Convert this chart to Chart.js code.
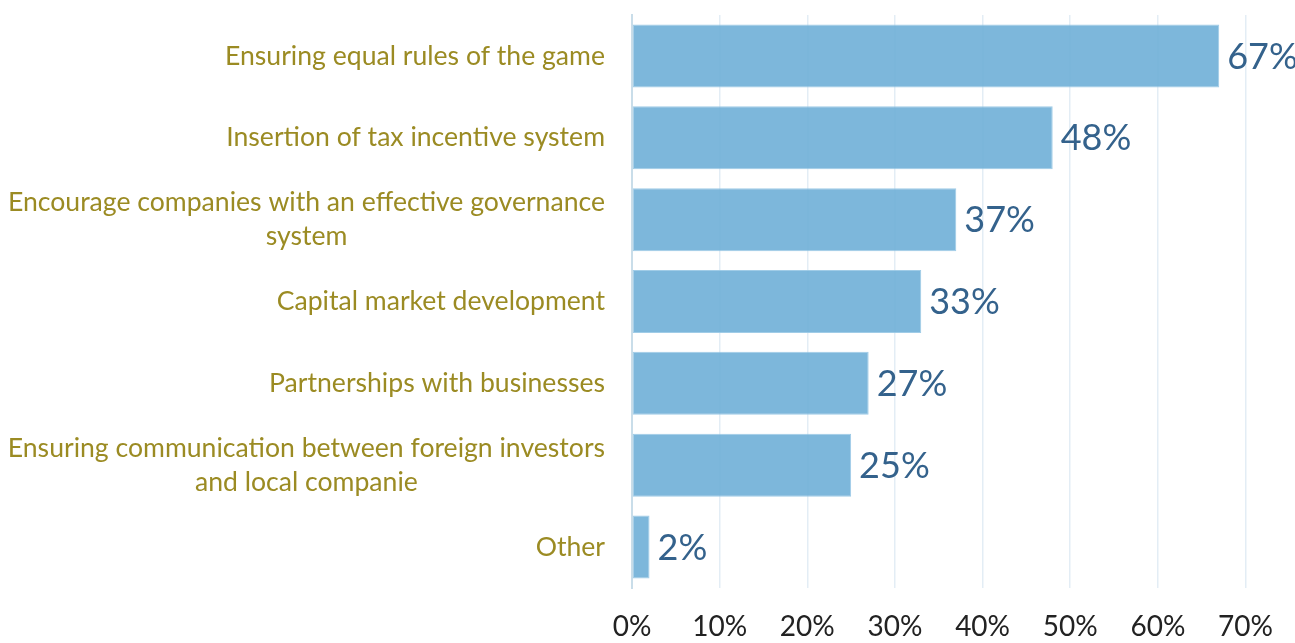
<!DOCTYPE html>
<html>
<head>
<meta charset="utf-8">
<title>Measures to support investment</title>
<script src="https://cdn.jsdelivr.net/npm/chart.js@4.4.1/dist/chart.umd.min.js"></script>
<style>
  html, body { margin: 0; padding: 0; background: #ffffff; }
  #wrap { position: relative; width: 1295px; height: 643px; }
</style>
</head>
<body>
<div id="wrap"><canvas id="chart"></canvas></div>
<script>
// Survey answers, one row per measure
const categories = [
  ["Ensuring equal rules of the game"],
  ["Insertion of tax incentive system"],
  ["Encourage companies with an effective governance", "system"],
  ["Capital market development"],
  ["Partnerships with businesses"],
  ["Ensuring communication between foreign investors", "and local companie"],
  ["Other"]
];
const shares = [67, 48, 37, 33, 27, 25, 2];
const xTicks = [0, 10, 20, 30, 40, 50, 60, 70];

const LABEL_FONT = "Lato, 'Open Sans', sans-serif";
const LABEL_COLOR = "#9b8b23";
const VALUE_COLOR = "#34628c";

// Category names, drawn right-aligned as a block with the lines centred inside it
const categoryLabels = {
  id: "categoryLabels",
  afterDraw(chart) {
    const { ctx } = chart;
    const y = chart.scales.y;
    const right = chart.chartArea.left - 27;
    const lineH = 34;
    ctx.save();
    ctx.font = "26.6px " + LABEL_FONT;
    ctx.fillStyle = LABEL_COLOR;
    ctx.textAlign = "center";
    ctx.textBaseline = "middle";
    categories.forEach((lines, i) => {
      const cy = y.getPixelForValue(i);
      const w = Math.max(...lines.map(l => ctx.measureText(l).width));
      const cx = right - w / 2;
      const top = cy - (lines.length - 1) * lineH / 2;
      lines.forEach((l, k) => ctx.fillText(l, cx, top + k * lineH));
    });
    ctx.restore();
  }
};

// Percentage written just past the end of each bar
const valueLabels = {
  id: "valueLabels",
  afterDatasetsDraw(chart) {
    const { ctx } = chart;
    const meta = chart.getDatasetMeta(0);
    ctx.save();
    ctx.font = "36px " + LABEL_FONT;
    ctx.fillStyle = VALUE_COLOR;
    ctx.textAlign = "left";
    ctx.textBaseline = "middle";
    meta.data.forEach((bar, i) => {
      ctx.fillText(shares[i] + "%", bar.x + 8, bar.y + 1);
    });
    ctx.restore();
  }
};

new Chart(document.getElementById("chart"), {
  type: "bar",
  data: {
    labels: categories.map(c => c.join(" ")),
    datasets: [{
      data: shares,
      backgroundColor: "rgba(111,175,215,0.9)",
      borderColor: "rgba(150,198,228,0.9)",
      borderWidth: 1,
      borderSkipped: false,
      barPercentage: 0.77,
      categoryPercentage: 1.0
    }]
  },
  options: {
    indexAxis: "y",
    responsive: true,
    maintainAspectRatio: false,
    animation: false,
    layout: { padding: { top: 15, right: 0, left: 0, bottom: 0 } },
    plugins: { legend: { display: false }, tooltip: { enabled: false } },
    scales: {
      x: {
        min: 0,
        max: 70,
        afterBuildTicks(scale) { scale.ticks = xTicks.map(v => ({ value: v })); },
        afterFit(scale) { scale.height = 55; },
        grid: { color: "#e3edf5", lineWidth: 1.5, drawTicks: false },
        border: { display: false },
        ticks: {
          padding: 22,
          color: "#222222",
          font: { family: LABEL_FONT, size: 28 },
          maxRotation: 0,
          callback: v => v + "%"
        }
      },
      y: {
        grid: { display: false, drawTicks: false },
        border: { display: true, color: "#c9dde9", width: 2 },
        ticks: { display: false },
        afterFit(scale) { scale.width = 632; }
      }
    }
  },
  plugins: [categoryLabels, valueLabels]
});
</script>
</body>
</html>
